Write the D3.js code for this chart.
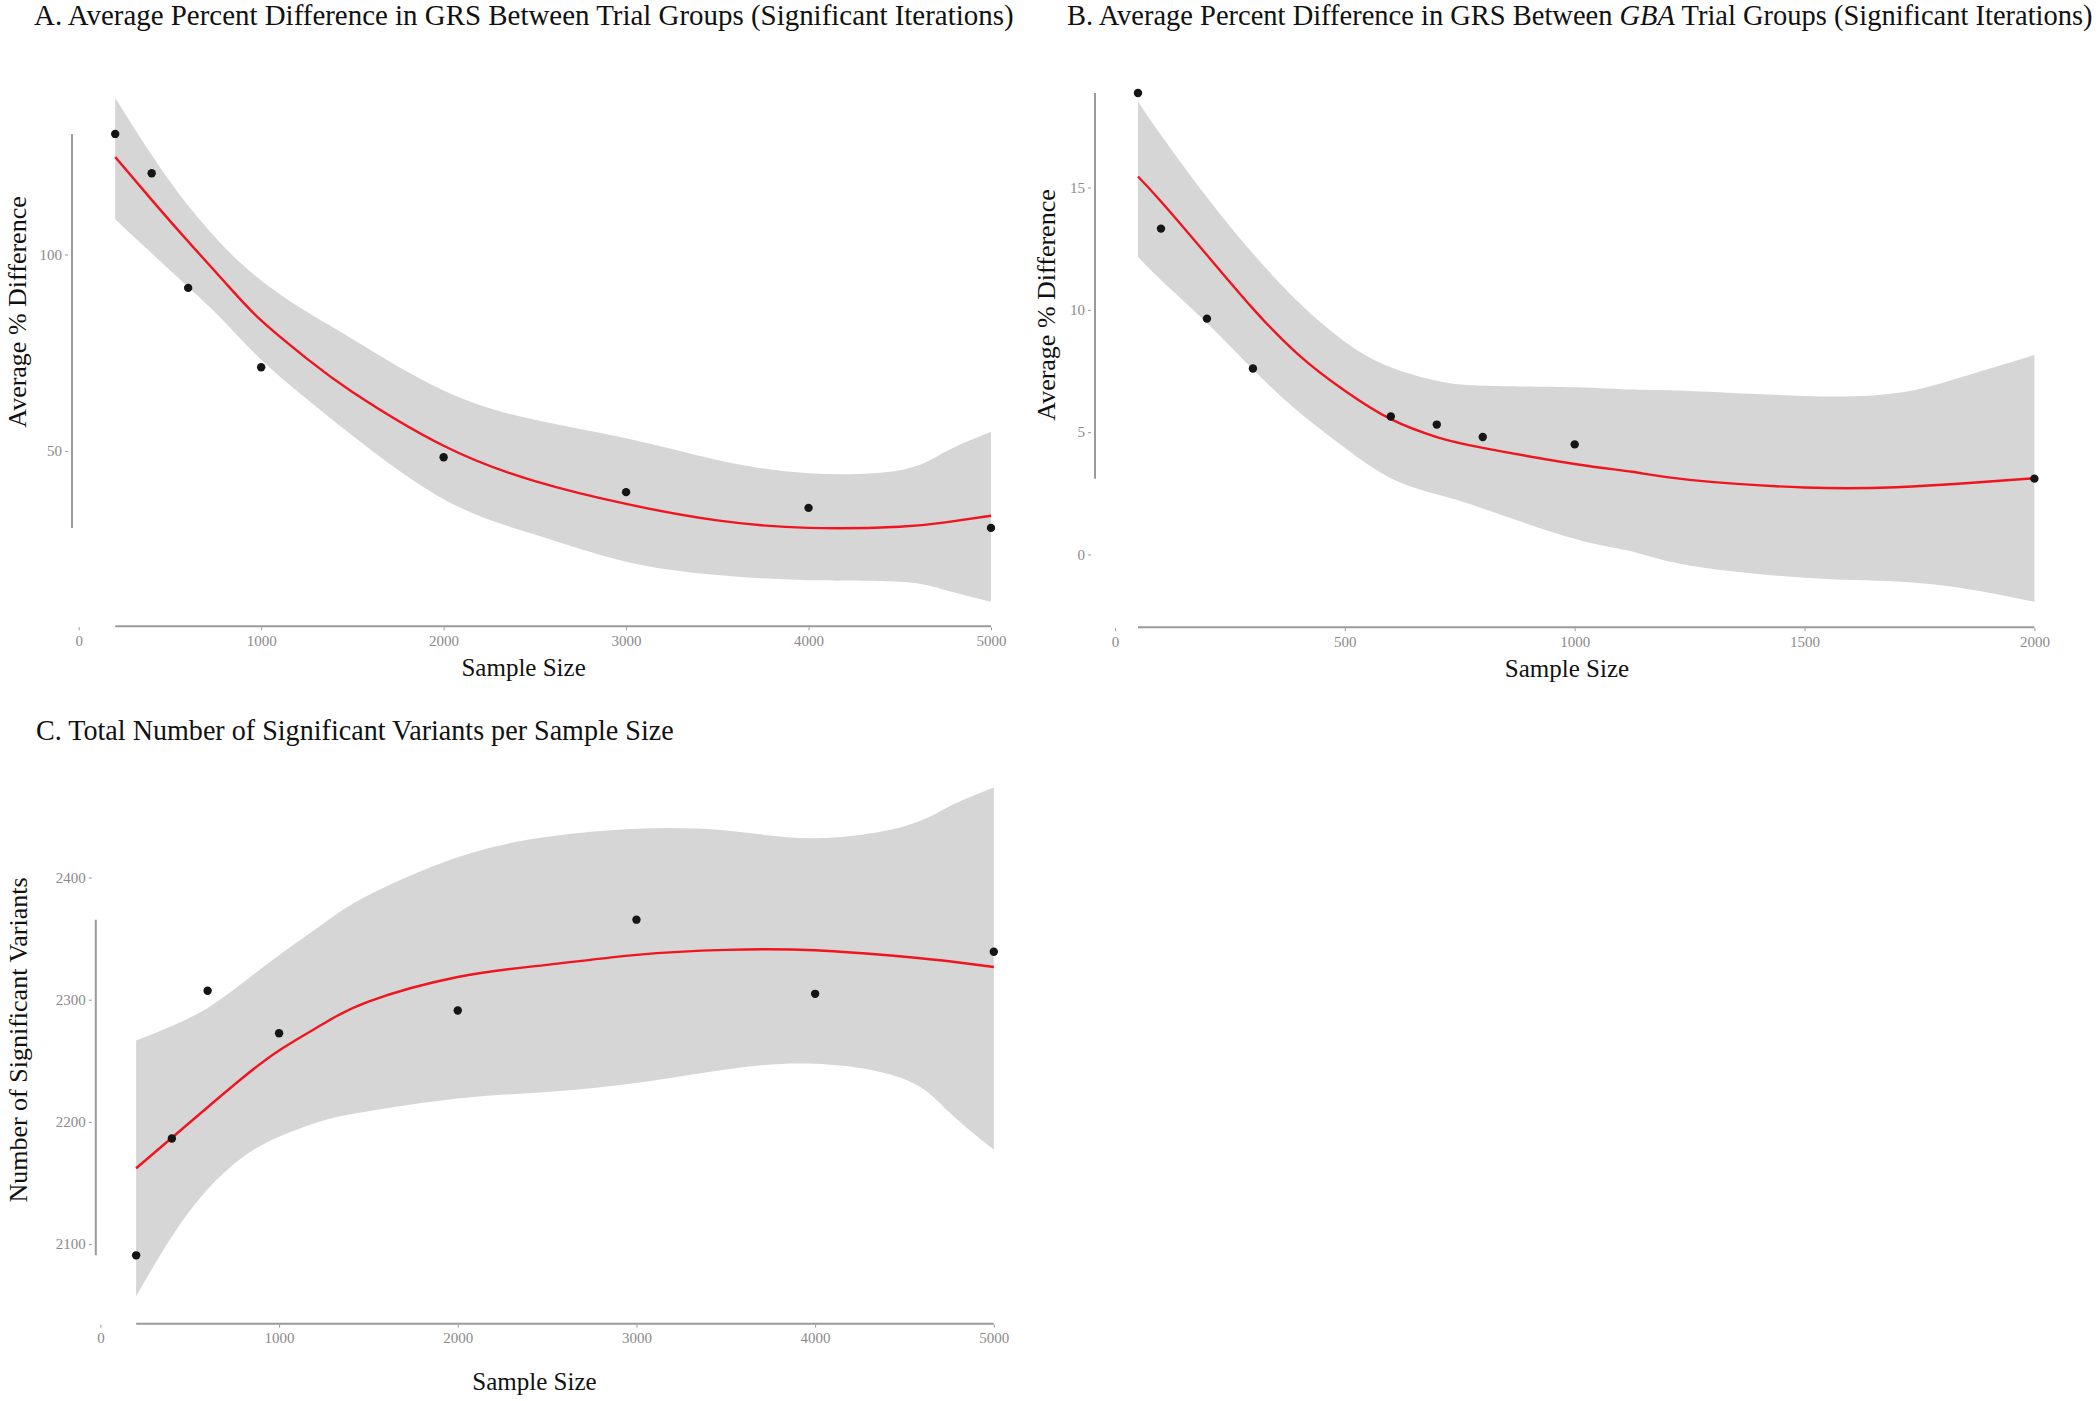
<!DOCTYPE html>
<html>
<head>
<meta charset="utf-8">
<script src="https://cdn.jsdelivr.net/npm/d3@7"></script>
<style>
  html, body { margin: 0; padding: 0; background: #fff; }
  svg { display: block; }
  .tick text { font-family: "Liberation Serif", "Times New Roman", serif; font-size: 15px; fill: #8a8a8a; }
  .tick line { stroke: #9a9a9a; stroke-width: 1; }
</style>
</head>
<body>
<svg id="chart" width="2100" height="1401"></svg>
<script>
// ---------- Panel A data ----------
const sampleA = [200, 400, 600, 1000, 2000, 3000, 4000, 5000];
const pctDiffA = [130.7, 120.7, 91.5, 71.3, 48.4, 39.5, 35.5, 30.4];
const gridA = [200, 400, 600, 800, 1000, 1250, 1500, 2000, 2500, 3000, 3500, 4000, 4500, 4750, 5000];
const fitA = [124.8, 113.9, 103.3, 93.0, 83.2, 73.5, 65.0, 51.3, 42.3, 36.5, 32.3, 30.4, 30.7, 31.8, 33.5];
const upperA = [139.9, 125.3, 112.4, 101.8, 93.4, 85.4, 78.5, 65.4, 57.9, 53.2, 47.7, 44.3, 45.1, 49.8, 54.9];
const lowerA = [109.0, 100.3, 91.7, 82.8, 73.2, 63.2, 53.9, 37.7, 28.7, 21.8, 18.4, 17.1, 16.7, 14.6, 11.6];
const xTicksA = [0, 1000, 2000, 3000, 4000, 5000];
const yTicksA = [50, 100];

// ---------- Panel B data ----------
const sampleB = [50, 100, 200, 300, 600, 700, 800, 1000, 2000];
const pctDiffB = [18.86, 13.32, 9.64, 7.60, 5.64, 5.31, 4.80, 4.50, 3.10];
const gridB = [50, 100, 200, 300, 400, 500, 600, 700, 800, 1000, 1125, 1250, 1500, 1700, 1850, 2000];
const fitB = [15.45, 14.43, 12.24, 10.05, 8.15, 6.69, 5.53, 4.80, 4.36, 3.70, 3.38, 3.05, 2.74, 2.75, 2.91, 3.12];
const upperB = [18.52, 17.15, 14.6, 12.3, 10.3, 8.7, 7.65, 7.1, 6.9, 6.84, 6.74, 6.68, 6.48, 6.6, 7.3, 8.15];
const lowerB = [12.17, 11.22, 9.46, 7.57, 5.82, 4.36, 3.12, 2.46, 1.88, 0.64, 0.12, -0.45, -0.95, -1.1, -1.4, -1.93];
const xTicksB = [0, 500, 1000, 1500, 2000];
const yTicksB = [0, 5, 10, 15];

// ---------- Panel C data ----------
const sampleC = [200, 400, 600, 1000, 2000, 3000, 4000, 5000];
const variantsC = [2090.8, 2186.4, 2307.3, 2272.5, 2291.2, 2365.5, 2304.8, 2339.2];
const gridC = [200, 400, 600, 800, 1000, 1250, 1500, 2000, 2500, 3000, 3500, 4000, 4500, 4750, 5000];
const fitC = [2162, 2187, 2212, 2236.5, 2258.5, 2280.5, 2298.5, 2318.6, 2328.5, 2336.7, 2340.8, 2340.5, 2335.2, 2331.5, 2326.8];
const upperC = [2266.6, 2278.5, 2293.3, 2314.2, 2336.4, 2362.5, 2385.5, 2416.6, 2433.3, 2439.9, 2438.4, 2432.2, 2442, 2458, 2473.6];
const lowerC = [2057.2, 2106.2, 2144.8, 2171.5, 2187.9, 2201.2, 2208.7, 2219.1, 2224.5, 2231.9, 2242.9, 2247.5, 2235, 2208, 2177.2];
const xTicksC = [0, 1000, 2000, 3000, 4000, 5000];
const yTicksC = [2100, 2200, 2300, 2400];

const svg = d3.select("#chart");
svg.append("rect").attr("width", 2100).attr("height", 1401).attr("fill", "#fff");

const SERIF = "'Liberation Serif', 'Times New Roman', serif";
const smooth = d3.curveNatural;

function panel(cfg) {
  const g = svg.append("g");
  const x = d3.scaleLinear().domain(cfg.xDomain).range(cfg.xRange);
  const y = d3.scaleLinear().domain(cfg.yDomain).range(cfg.yRange);

  const band = cfg.grid.map((v, i) => ({ x: v, lo: cfg.lower[i], hi: cfg.upper[i], f: cfg.fit[i] }));

  // confidence ribbon built from two smooth edges
  const upperPath = d3.line().curve(smooth).x(d => x(d.x)).y(d => y(d.hi))(band);
  const lowerPath = d3.line().curve(smooth).x(d => x(d.x)).y(d => y(d.lo))(band.slice().reverse());
  g.append("path")
    .attr("fill", "#d6d6d6")
    .attr("d", upperPath + "L" + lowerPath.slice(1) + "Z");

  g.append("path")
    .datum(band)
    .attr("fill", "none")
    .attr("stroke", "#f0141e")
    .attr("stroke-width", 2.4)
    .attr("d", d3.line().curve(smooth).x(d => x(d.x)).y(d => y(d.f)));

  g.selectAll("circle.pt")
    .data(cfg.xs.map((v, i) => [v, cfg.ys[i]]))
    .join("circle")
    .attr("class", "pt")
    .attr("cx", d => x(d[0]))
    .attr("cy", d => y(d[1]))
    .attr("r", 4.2)
    .attr("fill", "#151515");

  // range-frame axis lines
  const xExt = d3.extent(cfg.xs);
  const yExt = d3.extent(cfg.ys);
  g.append("line")
    .attr("x1", x(xExt[0])).attr("x2", x(xExt[1]))
    .attr("y1", cfg.xAxisY).attr("y2", cfg.xAxisY)
    .attr("stroke", "#9a9a9a").attr("stroke-width", 2);
  g.append("line")
    .attr("x1", cfg.yAxisX).attr("x2", cfg.yAxisX)
    .attr("y1", y(yExt[0])).attr("y2", y(yExt[1]))
    .attr("stroke", "#9a9a9a").attr("stroke-width", 2);

  const gx = g.append("g")
    .attr("transform", `translate(0,${cfg.xAxisY + 1})`)
    .call(d3.axisBottom(x).tickValues(cfg.xTicks).tickSize(3).tickPadding(5).tickFormat(d3.format("d")));
  gx.select(".domain").remove();

  const gy = g.append("g")
    .attr("transform", `translate(${cfg.yAxisX - 4},0)`)
    .call(d3.axisLeft(y).tickValues(cfg.yTicks).tickSize(3).tickPadding(3).tickFormat(d3.format("d")));
  gy.select(".domain").remove();

  // axis titles
  g.append("text")
    .attr("x", cfg.xTitle[0]).attr("y", cfg.xTitle[1])
    .attr("text-anchor", "middle")
    .attr("font-family", SERIF).attr("font-size", 25).attr("fill", "#111")
    .text("Sample Size");

  g.append("text")
    .attr("transform", `translate(${cfg.yTitle[0]},${cfg.yTitle[1]}) rotate(-90)`)
    .attr("text-anchor", "middle")
    .attr("font-family", SERIF).attr("font-size", 26).attr("fill", "#111")
    .text(cfg.yLabel);

  // title: natural text, then scaled horizontally to the reference width
  const tg = g.append("g");
  const t = tg.append("text")
    .attr("x", 0).attr("y", 0)
    .attr("font-family", SERIF).attr("font-size", 29).attr("fill", "#111");
  cfg.title.parts.forEach(p => {
    t.append("tspan").attr("font-style", p[1] ? "italic" : "normal").text(p[0]);
  });
  const w = t.node().getComputedTextLength();
  const s = cfg.title.len / w;
  tg.attr("transform", `translate(${cfg.title.x},${cfg.title.y}) scale(${s},1)`);
}

panel({
  xs: sampleA, ys: pctDiffA, grid: gridA, fit: fitA, upper: upperA, lower: lowerA,
  xDomain: [0, 5000], xRange: [78.7, 991],
  yDomain: [0, 100], yRange: [647.3, 254.5],
  xAxisY: 626.3, yAxisX: 72,
  xTicks: xTicksA, yTicks: yTicksA,
  xTitle: [523.6, 676], yTitle: [26, 312], yLabel: "Average % Difference",
  title: { x: 34, y: 25, len: 980, parts: [["A. Average Percent Difference in GRS Between Trial Groups (Significant Iterations)", false]] }
});

panel({
  xs: sampleB, ys: pctDiffB, grid: gridB, fit: fitB, upper: upperB, lower: lowerB,
  xDomain: [0, 2000], xRange: [1115, 2034.4],
  yDomain: [0, 15], yRange: [554.5, 187.5],
  xAxisY: 627.2, yAxisX: 1095,
  xTicks: xTicksB, yTicks: yTicksB,
  xTitle: [1567, 677], yTitle: [1055, 305], yLabel: "Average % Difference",
  title: { x: 1067, y: 25, len: 1026, parts: [["B. Average Percent Difference in GRS Between ", false], ["GBA", true], [" Trial Groups (Significant Iterations)", false]] }
});

panel({
  xs: sampleC, ys: variantsC, grid: gridC, fit: fitC, upper: upperC, lower: lowerC,
  xDomain: [0, 5000], xRange: [100.4, 993.8],
  yDomain: [2100, 2400], yRange: [1244.1, 877.5],
  xAxisY: 1323.7, yAxisX: 95.8,
  xTicks: xTicksC, yTicks: yTicksC,
  xTitle: [534.5, 1390], yTitle: [27, 1040], yLabel: "Number of Significant Variants",
  title: { x: 36, y: 740, len: 638, parts: [["C. Total Number of Significant Variants per Sample Size", false]] }
});
</script>
</body>
</html>
